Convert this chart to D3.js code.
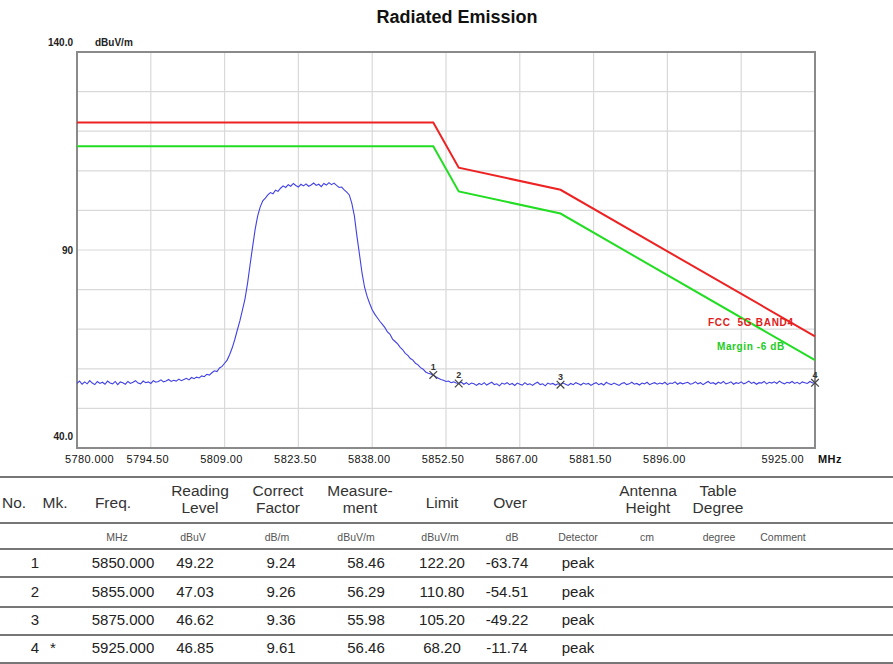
<!DOCTYPE html>
<html><head><meta charset="utf-8">
<script src="https://cdn.jsdelivr.net/npm/d3@7"></script>
<style>
body{margin:0;background:#fff;}
svg{display:block;font-family:"Liberation Sans",Arial,sans-serif;}
</style></head>
<body><svg id="c" width="893" height="664"></svg>
<script>
// ---- data ----
const traceStartMHz = 5780, traceStepMHz = 0.5;
const traceLevel = [
56.3,56.9,56.1,56.7,56.2,57.0,56.4,56.0,56.8,56.3,
56.6,56.1,56.9,56.4,56.2,56.8,56.0,56.7,56.5,56.1,
56.8,56.3,56.6,57.0,56.4,56.2,56.9,56.5,56.7,56.3,
57.0,56.6,56.8,57.2,56.7,56.9,57.3,56.8,57.1,56.9,
57.4,57.0,57.3,57.6,57.2,57.8,57.5,57.9,57.7,58.2,
58.0,58.6,58.4,59.0,59.5,59.3,60.2,60.6,61.4,62.2,
63.6,65.3,67.4,69.8,72.1,74.8,77.6,81.5,86.2,90.8,
95.2,98.6,100.9,102.4,103.1,103.9,104.5,104.2,105.1,104.8,
105.6,106.2,105.8,106.5,106.1,106.8,106.3,105.9,106.6,106.2,
106.7,106.1,106.4,106.9,106.3,106.6,106.0,106.8,106.4,107.0,
106.5,106.9,106.3,105.8,105.9,105.2,104.6,103.9,101.8,98.6,
93.5,88.9,84.2,80.6,78.3,76.5,74.9,73.8,72.9,72.0,
71.2,70.4,69.3,68.7,67.5,66.9,66.3,65.4,64.8,63.9,
63.4,62.6,62.2,61.4,61.0,60.3,59.9,59.2,58.9,58.7,
58.46,58.0,57.6,57.3,57.1,56.8,56.9,56.5,56.7,56.4,
56.29,56.6,56.1,56.5,56.0,56.4,56.2,55.8,56.3,56.0,
56.5,55.9,56.3,56.6,56.0,56.2,55.7,56.4,56.1,56.5,
56.0,56.3,55.8,56.4,56.1,55.9,56.5,56.0,56.2,55.8,
56.3,56.6,56.0,56.2,55.7,56.4,56.1,56.3,55.9,56.2,
55.98,56.4,56.1,55.8,56.3,56.0,56.5,56.2,55.9,56.4,
56.1,56.3,55.8,56.2,56.5,56.0,56.3,55.9,56.6,56.2,
56.0,56.4,56.1,55.8,56.3,56.5,56.0,56.2,56.6,56.1,
56.3,55.9,56.4,56.2,56.6,56.0,56.3,56.5,56.1,56.4,
56.2,56.6,56.0,56.4,56.3,56.7,56.1,56.5,56.2,56.4,
56.6,56.1,56.3,56.7,56.2,56.5,56.0,56.4,56.8,56.3,
56.5,56.1,56.6,56.3,56.8,56.2,56.4,56.7,56.1,56.5,
56.3,56.7,56.2,56.5,56.9,56.3,56.6,56.1,56.5,56.4,
56.8,56.2,56.6,56.4,56.7,56.3,56.9,56.5,56.2,56.6,
56.4,56.8,56.3,56.6,56.2,56.7,56.5,56.3,56.8,56.4,
56.46];
const limitFreq = [5780, 5850, 5855, 5875, 5925];
const limitLevel = [122.2, 122.2, 110.8, 105.2, 68.2];
const marginLevel = [116.2, 116.2, 104.8, 99.2, 62.2];
const xTicks = [5780, 5794.5, 5809, 5823.5, 5838, 5852.5, 5867, 5881.5, 5896, 5910.5, 5925];
const xTickLabels = ["5780.000","5794.50","5809.00","5823.50","5838.00","5852.50","5867.00","5881.50","5896.00","","5925.00"];
const yTicks = [40,50,60,70,80,90,100,110,120,130,140];
const yTickLabels = {140:"140.0", 90:"90", 40:"40.0"};

const tblNo = ["1","2","3","4"];
const tblMk = ["","","","*"];
const tblFreq = ["5850.000","5855.000","5875.000","5925.000"];
const tblReading = ["49.22","47.03","46.62","46.85"];
const tblFactor = ["9.24","9.26","9.36","9.61"];
const tblMeas = [58.46, 56.29, 55.98, 56.46];
const tblLimit = ["122.20","110.80","105.20","68.20"];
const tblOver = ["-63.74","-54.51","-49.22","-11.74"];
const tblDetector = ["peak","peak","peak","peak"];
const markerFreq = [5850, 5855, 5875, 5925];

// ---- layout ----
const svg = d3.select("#c");
svg.append("rect").attr("width",893).attr("height",664).attr("fill","#fff");
const L=77, R=815, T=52, B=448;
const x = d3.scaleLinear().domain([5780,5925]).range([L,R]);
const y = d3.scaleLinear().domain([40,140]).range([B,T]);

svg.append("text").attr("x",457).attr("y",23).attr("text-anchor","middle")
  .attr("font-size",18).attr("font-weight","bold").attr("fill","#111").text("Radiated Emission");

// grid
const g = svg.append("g");
g.selectAll("line.v").data(xTicks.slice(1,-1)).join("line")
  .attr("x1",d=>x(d)).attr("x2",d=>x(d)).attr("y1",T).attr("y2",B)
  .attr("stroke","#d9d9d9").attr("stroke-width",1.2);
g.selectAll("line.h").data(yTicks.slice(1,-1)).join("line")
  .attr("y1",d=>y(d)).attr("y2",d=>y(d)).attr("x1",L).attr("x2",R)
  .attr("stroke","#d9d9d9").attr("stroke-width",1.2);
g.append("rect").attr("x",L).attr("y",T).attr("width",R-L).attr("height",B-T)
  .attr("fill","none").attr("stroke","#8a8a8a").attr("stroke-width",2);

// x tick labels
const xl = svg.append("g").attr("font-size",11).attr("fill","#111").attr("letter-spacing",0.4);
xTicks.forEach((t,i)=>{
  const lab = xTickLabels[i]; if(!lab) return;
  let anchor="middle", px=x(t)-3;
  if(i===0){anchor="start"; px=x(t)-12;}
  if(i===xTicks.length-1){anchor="end"; px=x(t)-11;}
  xl.append("text").attr("x",px).attr("y",463).attr("text-anchor",anchor).text(lab);
});
xl.append("text").attr("x",818).attr("y",463).attr("font-weight","bold").text("MHz");

// y labels
const yl = svg.append("g").attr("font-size",10).attr("font-weight","bold").attr("fill","#222");
yTicks.forEach(t=>{
  if(!yTickLabels[t]) return;
  const py = t===140 ? y(t)-6 : (t===40 ? y(t)-8 : y(t)+4);
  yl.append("text").attr("x",73).attr("y",py).attr("text-anchor","end").text(yTickLabels[t]);
});
yl.append("text").attr("x",95).attr("y",46).attr("font-size",10).text("dBuV/m");

// lines
const lineGen = d3.line().x(d=>x(d[0])).y(d=>y(d[1]));
svg.append("path").datum(limitFreq.map((f,i)=>[f,limitLevel[i]]))
  .attr("d",lineGen).attr("fill","none").attr("stroke","#ee2222").attr("stroke-width",2);
svg.append("path").datum(limitFreq.map((f,i)=>[f,marginLevel[i]]))
  .attr("d",lineGen).attr("fill","none").attr("stroke","#22dd22").attr("stroke-width",2);
svg.append("path").datum(traceLevel.map((v,i)=>[traceStartMHz+i*traceStepMHz,v]))
  .attr("d",lineGen).attr("fill","none").attr("stroke","#4040e6").attr("stroke-width",1.1);

// legend texts
svg.append("text").attr("x",708).attr("y",326).attr("font-size",10).attr("font-weight","bold")
  .attr("letter-spacing",0.7).style("white-space","pre").attr("fill","#e02020").text("FCC  5G BAND4");
svg.append("text").attr("x",717).attr("y",350).attr("font-size",10).attr("font-weight","bold")
  .attr("letter-spacing",0.6).style("white-space","pre").attr("fill","#22cc22").text("Margin -6 dB");

// markers
const sym = d3.symbol().type(d3.symbolX).size(40);
markerFreq.forEach((f,i)=>{
  const mx=x(f), my=y(tblMeas[i]);
  svg.append("path").attr("d",sym()).attr("transform",`translate(${mx},${my})`)
    .attr("stroke","#444").attr("stroke-width",1.2).attr("fill","none");
  svg.append("text").attr("x",mx).attr("y",my-5).attr("text-anchor","middle")
    .attr("font-size",9).attr("font-weight","bold").attr("fill","#333").text(tblNo[i]);
});

// ---- table ----
const tb = svg.append("g").attr("fill","#333");
[477,523,549,577,607,635,663].forEach(ly=>{
  tb.append("line").attr("x1",0).attr("x2",893).attr("y1",ly).attr("y2",ly)
    .attr("stroke","#777").attr("stroke-width",2);
});
const hdr = [
  [14,["No."]],[55,["Mk."]],[113,["Freq."]],[200,["Reading","Level"]],[278,["Correct","Factor"]],
  [360,["Measure-","ment"]],[442,["Limit"]],[510,["Over"]],[648,["Antenna","Height"]],[718,["Table","Degree"]]
];
hdr.forEach(([cx,lines])=>{
  if(lines.length===1){
    tb.append("text").attr("x",cx).attr("y",508).attr("text-anchor","middle").attr("font-size",15.5).text(lines[0]);
  } else {
    tb.append("text").attr("x",cx).attr("y",496).attr("text-anchor","middle").attr("font-size",15.5).text(lines[0]);
    tb.append("text").attr("x",cx).attr("y",513).attr("text-anchor","middle").attr("font-size",15.5).text(lines[1]);
  }
});
const units = [[117,"MHz"],[193,"dBuV"],[277,"dB/m"],[356,"dBuV/m"],[440,"dBuV/m"],[512,"dB"],[578,"Detector"],[647,"cm"],[719,"degree"],[783,"Comment"]];
units.forEach(([cx,t])=>{
  tb.append("text").attr("x",cx).attr("y",541).attr("text-anchor","middle").attr("font-size",10.5).attr("fill","#555").text(t);
});
const rowY = [568,597,625,653];
tblNo.forEach((n,i)=>{
  const cells = [[35,n],[53,tblMk[i]],[123,tblFreq[i]],[195,tblReading[i]],[281,tblFactor[i]],
    [366,tblMeas[i].toFixed(2)],[442,tblLimit[i]],[507,tblOver[i]],[578,tblDetector[i]]];
  cells.forEach(([cx,t])=>{
    tb.append("text").attr("x",cx).attr("y",rowY[i]).attr("text-anchor","middle").attr("font-size",15).attr("fill","#222").text(t);
  });
});
</script></body></html>
